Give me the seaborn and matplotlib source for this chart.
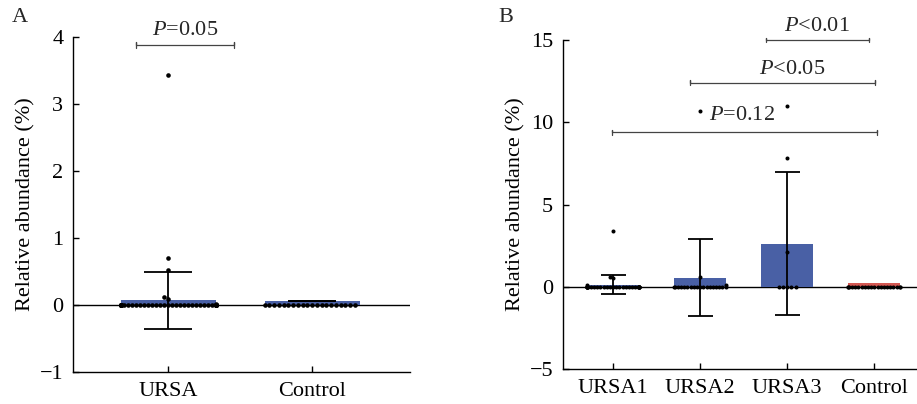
import numpy as np
import pandas as pd
import matplotlib
matplotlib.use("Agg")
import matplotlib.pyplot as plt
import seaborn as sns

# ─────────────────────────────────────────────
# Data
# ─────────────────────────────────────────────
groups_a = ["URSA", "Control"]
means_a  = [0.07, 0.06]
sd_a     = [0.43, 0.0]
ursa_pts_a    = [3.43, 0.70, 0.52, 0.12, 0.09, 0.02]
ursa_zeros_a  = 60
ctrl_zeros_a  = 20

groups_b = ["URSA1", "URSA2", "URSA3", "Control"]
means_b  = [0.12, 0.55, 2.62, 0.25]
sd_b     = [0.58, 2.33, 4.35, 0.0]
ursa1_pts = [3.4, 0.62, 0.55, 0.12]
ursa2_pts = [10.7, 0.6, 0.08]
ursa3_pts = [11.0, 7.85, 2.1]
zeros_b   = [29, 18, 5, 20]

BLUE = "#3a59b4"
RED  = "#e8453c"

sns.set_theme(style="white")
plt.rcParams["font.family"] = ["Liberation Serif", "DejaVu Serif"]
plt.rcParams["mathtext.fontset"] = "custom"
plt.rcParams["mathtext.it"] = "Liberation Serif:italic"
plt.rcParams["mathtext.rm"] = "Liberation Serif"
FS = 16


def build_points(groups, nonzero, zeros):
    rows = []
    for g, vals, nz in zip(groups, nonzero, zeros):
        for v in list(vals) + [0.0] * nz:
            rows.append((g, v))
    return pd.DataFrame(rows, columns=["group", "value"])


def squeeze_swarm(colls, bar_width):
    # seaborn lays the swarm out at draw time over 0.8 of a category;
    # freeze that layout and keep each swarm inside its bar
    for coll in colls:
        if "draw" in coll.__dict__:
            del coll.draw
        off = np.array(coll.get_offsets())
        if len(off) == 0:
            continue
        centre = np.round(off[:, 0])
        dx = off[:, 0] - centre
        for c in np.unique(centre):
            m = centre == c
            spread = np.abs(dx[m]).max()
            if spread > bar_width / 2:
                dx[m] *= (bar_width / 2) / spread
        off[:, 0] = centre + dx
        coll.set_offsets(off)


def style_axis(ax, ylim, yticks):
    ax.set_ylim(*ylim)
    ax.set_yticks(yticks)
    ax.set_yticklabels(["\u2212" + str(abs(t)) if t < 0 else str(t) for t in yticks])
    for s in ["top", "right"]:
        ax.spines[s].set_visible(False)
    for s in ["left", "bottom"]:
        ax.spines[s].set_color("black")
        ax.spines[s].set_linewidth(1.0)
    ax.tick_params(axis="both", direction="in", length=4, width=1, colors="black",
                   labelsize=FS, left=True, bottom=True, pad=7)
    ax.axhline(0, color="black", lw=1.0, zorder=1)
    ax.set_xlabel("")
    ax.set_ylabel("Relative abundance (%)", fontsize=FS, color="black", labelpad=3)


def bracket(ax, x0, x1, y, h, label, tx, ty):
    ax.plot([x0, x0, x0, x1, x1, x1], [y - h, y + h, y, y, y + h, y - h],
            color="#444444", lw=0.9, clip_on=False, zorder=5)
    ax.text(tx, ty, label, ha="center", va="center", fontsize=FS, clip_on=False)


fig = plt.figure(figsize=(9.17, 4.04), dpi=100)

# ─────────────────────────────────────────────
# Panel A
# ─────────────────────────────────────────────
axA = fig.add_axes([73 / 917, 1 - 372 / 404, (410 - 73) / 917, (372 - 37) / 404])
dfA = pd.DataFrame({"group": groups_a, "mean": means_a})
sns.barplot(data=dfA, x="group", y="mean", order=groups_a, color=BLUE,
            width=0.66, errorbar=None, ax=axA, zorder=2, linewidth=0)
ptsA = build_points(groups_a, [ursa_pts_a, []], [ursa_zeros_a, ctrl_zeros_a])
n0 = len(axA.collections)
sns.swarmplot(data=ptsA, x="group", y="value", order=groups_a, color="black",
              size=3.3, ax=axA, zorder=4, warn_thresh=1)
swarm_a = axA.collections[n0:]
axA.errorbar(range(len(groups_a)), means_a, yerr=sd_a, fmt="none", ecolor="black",
             elinewidth=1.3, capsize=17, capthick=1.3, zorder=6)
axA.set_xlim(-0.66, 1.68)
style_axis(axA, (-1, 4), [-1, 0, 1, 2, 3, 4])
bracket(axA, -0.22, 0.46, 3.88, 0.04, "$P$=0.05", 0.12, 4.09)

# ─────────────────────────────────────────────
# Panel B
# ─────────────────────────────────────────────
axB = fig.add_axes([563 / 917, 1 - 369 / 404, (917 - 563) / 917, (369 - 40) / 404])
dfB = pd.DataFrame({"group": groups_b, "mean": means_b})
sns.barplot(data=dfB, x="group", y="mean", order=groups_b, hue="group",
            palette=[BLUE, BLUE, BLUE, RED], legend=False, width=0.6,
            errorbar=None, ax=axB, zorder=2, linewidth=0)
ptsB = build_points(groups_b, [ursa1_pts, ursa2_pts, ursa3_pts, []], zeros_b)
n0 = len(axB.collections)
sns.swarmplot(data=ptsB, x="group", y="value", order=groups_b, color="black",
              size=2.9, ax=axB, zorder=4, warn_thresh=1)
swarm_b = axB.collections[n0:]
err_b = [s if s > 0 else np.nan for s in sd_b]
axB.errorbar(range(len(groups_b)), means_b, yerr=err_b, fmt="none", ecolor="black",
             elinewidth=1.3, capsize=9, capthick=1.3, zorder=6)
axB.set_xlim(-0.575, 3.49)
style_axis(axB, (-5, 15), [-5, 0, 5, 10, 15])
bracket(axB, 1.76, 2.94, 15.0, 0.15, "$P$<0.01", 2.34, 15.85)
bracket(axB, 0.885, 3.01, 12.4, 0.15, "$P$<0.05", 2.06, 13.2)
bracket(axB, -0.01, 3.03, 9.4, 0.15, "$P$=0.12", 1.48, 10.4)

fig.text(12 / 917, 1 - 17 / 404, "A", fontsize=FS, ha="left", va="center")
fig.text(498 / 917, 1 - 17 / 404, "B", fontsize=FS, ha="left", va="center")

fig.canvas.draw()
squeeze_swarm(swarm_a, 0.66)
squeeze_swarm(swarm_b, 0.6)

plt.savefig("out.png", dpi=100)
plt.close(fig)
